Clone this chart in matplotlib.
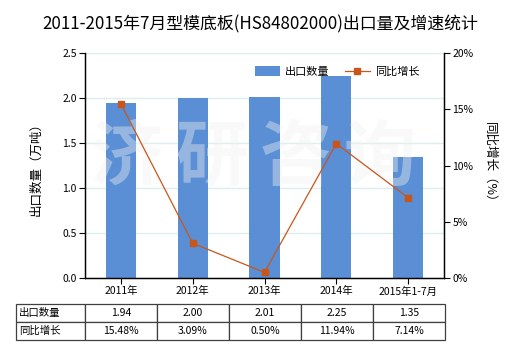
import matplotlib
matplotlib.use("Agg")
import matplotlib.pyplot as plt
import numpy as np

plt.rcParams['font.family'] = ['Noto Sans CJK SC', 'DejaVu Sans']

categories = ["2011年", "2012年", "2013年", "2014年", "2015年1-7月"]
export_qty = [1.94, 2.00, 2.01, 2.25, 1.35]
growth_pct = [15.48, 3.09, 0.50, 11.94, 7.14]

title = "2011-2015年7月型模底板(HS84802000)出口量及增速统计"
bar_color = "#5A8FD5"
line_color = "#C8561A"
grid_color = "#DCEFEC"

fig = plt.figure(figsize=(5.2, 3.5), dpi=100)
ax = fig.add_axes([85 / 520, 1 - 278 / 350, 359 / 520, 225 / 350])
ax2 = ax.twinx()

x = np.arange(len(categories))
ax.bar(x, export_qty, width=0.42, color=bar_color, zorder=2, label="出口数量")
ax.set_xlim(-0.5, len(categories) - 0.5)
ax.set_ylim(0, 2.5)
ax.set_yticks(np.arange(0, 2.51, 0.5))
ax.set_yticklabels([f"{v:.1f}" for v in np.arange(0, 2.51, 0.5)], fontsize=7.5)
ax.yaxis.grid(True, color=grid_color, linewidth=1, zorder=0)
ax.set_axisbelow(True)
ax.set_xticks(x)
ax.set_xticklabels(categories, fontsize=7.5)
ax.tick_params(axis="both", length=4, width=0.8, pad=2)

ax2.plot(x, growth_pct, color=line_color, linewidth=0.9, marker="s", markersize=4.5,
         markerfacecolor=line_color, markeredgecolor=line_color, zorder=3, label="同比增长")
ax2.set_ylim(0, 20)
ax2.set_yticks(np.arange(0, 21, 5))
ax2.set_yticklabels([f"{v}%" for v in range(0, 21, 5)], fontsize=7.5)
ax2.tick_params(axis="y", length=4, width=0.8, pad=2)

for a in (ax, ax2):
    a.spines["top"].set_visible(False)
    for s in ("left", "right", "bottom"):
        a.spines[s].set_linewidth(0.9)
        a.spines[s].set_color("black")

ax.set_ylabel("出口数量（万吨）", fontsize=9, labelpad=14)
ax2.set_ylabel("同比增长（%）", fontsize=9, rotation=-90, labelpad=16)

# faint watermark across the plotting area
for i, ch in enumerate("济研咨询"):
    ax.text(0.117 + i * 0.235, 0.53, ch, transform=ax.transAxes, ha="center", va="center",
            fontsize=52, fontweight="bold", color="#F2F2F2", alpha=0.4, zorder=2.5)

h1, l1 = ax.get_legend_handles_labels()
h2, l2 = ax2.get_legend_handles_labels()
ax2.legend(h1 + h2, l1 + l2, loc="upper right", bbox_to_anchor=(0.96, 0.985), ncol=2,
           frameon=False, fontsize=8, handlelength=2.2, handleheight=0.9,
           columnspacing=1.4, handletextpad=0.5)

fig.suptitle(title, y=0.955, fontsize=12.2)

# data table beneath the chart
rows = [["出口数量"] + [f"{v:.2f}" for v in export_qty],
        ["同比增长"] + [f"{v:.2f}%" for v in growth_pct]]
tw = (445 - 16)
col_w = [69 / tw] + [72 / tw] * 5
tbl = ax.table(cellText=rows, colWidths=col_w, cellLoc="center",
               bbox=[(16 - 85) / 359, (278 - 340) / 225, tw / 359, 36 / 225])
tbl.auto_set_font_size(False)
tbl.set_fontsize(7.5)
for (r, c), cell in tbl.get_celld().items():
    cell.set_edgecolor("#404040")
    cell.set_linewidth(0.9)
    if c == 0:
        cell.set_text_props(ha="left")
        cell.PAD = 0.04

fig.savefig("out.png", dpi=100)
